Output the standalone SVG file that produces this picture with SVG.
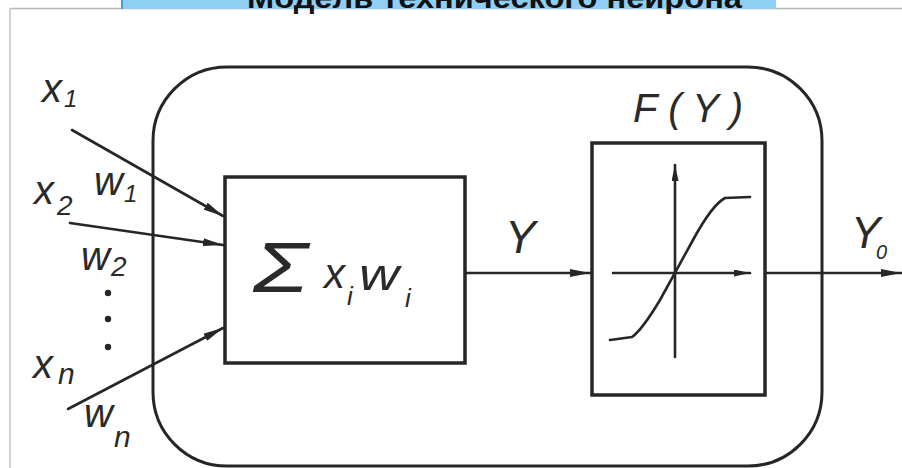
<svg xmlns="http://www.w3.org/2000/svg" width="902" height="468" viewBox="0 0 902 468">
  <style>
    .ink { stroke: #262626; fill: none; stroke-linecap: round; stroke-linejoin: round; }
    .box { stroke: #262626; fill: none; stroke-width: 3.5; }
    .line { stroke: #262626; fill: none; stroke-width: 2.6; stroke-linecap: round; }
    .lbl { font-family: "Liberation Sans", Arial, sans-serif; font-style: italic; fill: #2a2a2a; }
    .title { font-family: "Liberation Sans", Arial, sans-serif; font-weight: bold; fill: #111; }
  </style>
  <defs>
    <marker id="arr" viewBox="0 0 20 8" refX="20" refY="4" markerWidth="20" markerHeight="8" markerUnits="userSpaceOnUse" orient="auto">
      <path d="M0,0 L20,4 L0,8 Z" fill="#262626"/>
    </marker>
    <marker id="arrS" viewBox="0 0 16 7" refX="16" refY="3.5" markerWidth="16" markerHeight="7" markerUnits="userSpaceOnUse" orient="auto">
      <path d="M0,0 L16,3.5 L0,7 Z" fill="#262626"/>
    </marker>
  </defs>
  <rect x="0" y="0" width="902" height="468" fill="#ffffff"/>

  <g id="frame">
    <line x1="10" y1="8.5" x2="902" y2="8.5" stroke="#b8b8b8" stroke-width="1.5"/>
    <line x1="10" y1="8.5" x2="10" y2="468" stroke="#c4c4c4" stroke-width="1.5"/>
  </g>

  <g id="title">
    <rect x="121" y="0" width="655" height="9" fill="#90cff4"/>
    <line x1="122" y1="0" x2="122" y2="9" stroke="#3aa3d6" stroke-width="2"/>
    <text class="title" x="247" y="8" font-size="30" textLength="495" lengthAdjust="spacingAndGlyphs">Модель технического нейрона</text>
  </g>

  <g id="neuron-body">
    <rect x="153" y="67" width="669" height="399" rx="74" ry="74" class="ink" stroke-width="3"/>
  </g>

  <g id="sum-block">
    <rect x="225" y="177" width="240" height="186" class="box"/>
    <text class="lbl" x="253" y="292" font-size="70" font-style="normal" textLength="55" lengthAdjust="spacingAndGlyphs">Σ</text>
    <text class="lbl" x="324" y="288" font-size="42">x</text>
    <text class="lbl" x="347" y="305" font-size="26">i</text>
    <text class="lbl" x="359" y="290" font-size="44" textLength="40" lengthAdjust="spacingAndGlyphs">w</text>
    <text class="lbl" x="405" y="307" font-size="26">i</text>
  </g>

  <g id="activation-block">
    <rect x="592" y="143" width="173" height="252" class="box"/>
    <text class="lbl" x="633" y="122" font-size="40" textLength="110" lengthAdjust="spacing">F(Y)</text>
    <line x1="675" y1="357" x2="675" y2="165" class="line" stroke-width="2" marker-end="url(#arrS)"/>
    <line x1="613" y1="273" x2="750" y2="273" class="line" stroke-width="2" marker-end="url(#arrS)"/>
    <path d="M610,340 L632,337 Q642,330 660,300 L693,240 Q712,205 725,198 L750,197" class="ink" stroke-width="2.6"/>
  </g>

  <g id="inputs">
    <text class="lbl" x="42" y="102" font-size="40">x</text>
    <text class="lbl" x="64" y="107" font-size="24">1</text>
    <text class="lbl" x="94" y="195" font-size="40">w</text>
    <text class="lbl" x="124" y="202" font-size="24">1</text>
    <text class="lbl" x="34" y="204" font-size="40">x</text>
    <text class="lbl" x="57" y="215" font-size="28">2</text>
    <text class="lbl" x="81" y="270" font-size="40">w</text>
    <text class="lbl" x="111" y="276" font-size="28">2</text>
    <circle cx="108" cy="293" r="3.2" fill="#262626"/>
    <circle cx="108" cy="319" r="3.2" fill="#262626"/>
    <circle cx="108" cy="347" r="3.2" fill="#262626"/>
    <text class="lbl" x="33" y="378" font-size="40">x</text>
    <text class="lbl" x="58" y="384" font-size="30">n</text>
    <text class="lbl" x="84" y="427" font-size="40">w</text>
    <text class="lbl" x="114" y="447" font-size="30">n</text>
  </g>

  <g id="output-labels">
    <text class="lbl" x="505" y="253" font-size="46">Y</text>
    <text class="lbl" x="851" y="248" font-size="44">Y</text>
    <text class="lbl" x="876" y="259" font-size="20">0</text>
  </g>

  <g id="connectors">
    <line x1="72" y1="130" x2="223" y2="216" class="line" marker-end="url(#arr)"/>
    <line x1="70" y1="223" x2="223" y2="245" class="line" marker-end="url(#arr)"/>
    <line x1="68" y1="409" x2="223" y2="328" class="line" marker-end="url(#arr)"/>
    <line x1="465" y1="273" x2="590" y2="273" class="line" marker-end="url(#arr)"/>
    <line x1="765" y1="273" x2="901" y2="273" class="line" marker-end="url(#arr)"/>
  </g>
</svg>
